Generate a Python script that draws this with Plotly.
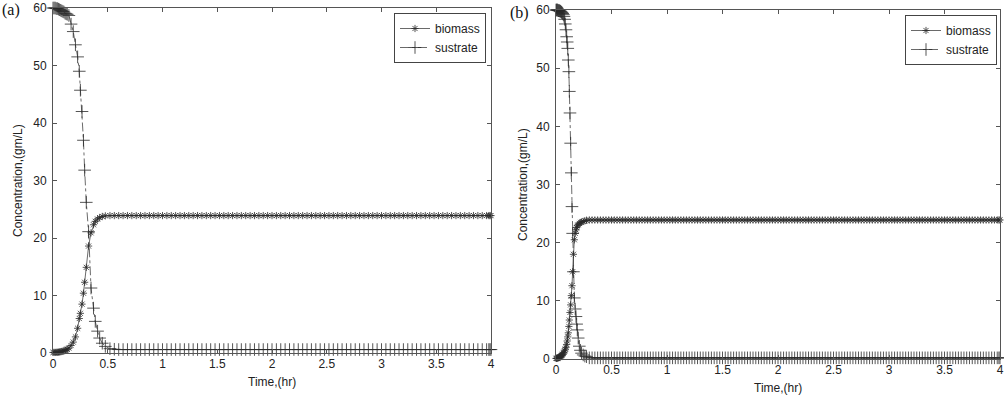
import plotly.graph_objects as go

# ---------------- data: panel (a) ----------------
t_a_trans = [0, 0.01, 0.02, 0.03, 0.04, 0.05, 0.06, 0.07, 0.08, 0.09, 0.10, 0.11, 0.12, 0.13,
             0.145, 0.165, 0.185, 0.205, 0.225, 0.24, 0.25, 0.265, 0.278, 0.289, 0.304, 0.325,
             0.347, 0.37, 0.386, 0.407, 0.426, 0.45, 0.478, 0.52, 0.56]
biomass_a_trans = [0.1, 0.1, 0.1, 0.12, 0.13, 0.15, 0.18, 0.22, 0.26, 0.3, 0.36, 0.44, 0.55, 0.65,
                   0.85, 1.3, 1.9, 2.8, 4.3, 6.0, 6.9, 8.5, 10.4, 12.3, 14.9, 18.6,
                   20.9, 22.3, 22.9, 23.3, 23.55, 23.75, 23.85, 23.9, 23.9]
substrate_a_trans = [60, 60, 60, 59.9, 59.9, 59.8, 59.7, 59.6, 59.5, 59.4, 59.3, 59.1, 59.0, 58.9,
                     58.7, 57.2, 55.9, 53.6, 51.5, 49.0, 45.7, 42.0, 37.0, 31.8, 26.2, 21.1,
                     11.3, 7.8, 5.5, 3.8, 2.6, 1.7, 1.15, 0.75, 0.65]
t_a_plateau = [0.60, 0.64, 0.68, 0.72, 0.76, 0.80, 0.84, 0.88, 0.92, 0.96,
               1.00, 1.04, 1.08, 1.12, 1.16, 1.20, 1.24, 1.28, 1.32, 1.36,
               1.40, 1.44, 1.48, 1.52, 1.56, 1.60, 1.64, 1.68, 1.72, 1.76,
               1.80, 1.84, 1.88, 1.92, 1.96, 2.00, 2.04, 2.08, 2.12, 2.16,
               2.20, 2.24, 2.28, 2.32, 2.36, 2.40, 2.44, 2.48, 2.52, 2.56,
               2.60, 2.64, 2.68, 2.72, 2.76, 2.80, 2.84, 2.88, 2.92, 2.96,
               3.00, 3.04, 3.08, 3.12, 3.16, 3.20, 3.24, 3.28, 3.32, 3.36,
               3.40, 3.44, 3.48, 3.52, 3.56, 3.60, 3.64, 3.68, 3.72, 3.76,
               3.80, 3.84, 3.88, 3.92, 3.96, 3.98, 3.99, 4.00]
biomass_a_final = 23.9
substrate_a_final = 0.6

# ---------------- data: panel (b) ----------------
t_b_trans = [0, 0.005, 0.01, 0.015, 0.02, 0.025, 0.03, 0.035, 0.04, 0.045, 0.05, 0.055, 0.06,
             0.066, 0.072, 0.078, 0.084, 0.09, 0.096, 0.101, 0.106, 0.111, 0.116, 0.12, 0.126,
             0.132, 0.138, 0.144, 0.150, 0.157, 0.165, 0.173, 0.18, 0.186, 0.192, 0.2, 0.21,
             0.22, 0.23, 0.245, 0.26, 0.275]
biomass_b_trans = [0.1, 0.11, 0.13, 0.16, 0.2, 0.25, 0.3, 0.35, 0.42, 0.5, 0.6, 0.7, 0.8,
                   1.0, 1.15, 1.4, 1.7, 2.0, 2.5, 3.1, 3.8, 4.5, 5.6, 6.7, 8.0,
                   9.3, 10.9, 12.6, 15.0, 18.0, 20.5, 21.6, 22.2, 22.6, 22.9, 23.1, 23.3,
                   23.45, 23.55, 23.65, 23.75, 23.85]
substrate_b_trans = [60, 60, 60, 60, 59.9, 59.9, 59.9, 59.8, 59.8, 59.7, 59.6, 59.5, 59.4,
                     59.2, 58.9, 58.4, 57.6, 56.6, 55.4, 54.5, 53.4, 51.4, 49.4, 46.0, 42.3,
                     37.1, 32.0, 26.2, 21.6, 15.0, 10.5, 8.6, 7.3, 6.0, 5.0, 3.6, 2.2,
                     1.5, 1.0, 0.7, 0.5, 0.4]
t_b_plateau = [0.300, 0.325, 0.350, 0.375, 0.400, 0.425, 0.450, 0.475, 0.500, 0.525,
               0.550, 0.575, 0.600, 0.625, 0.650, 0.675, 0.700, 0.725, 0.750, 0.775,
               0.800, 0.825, 0.850, 0.875, 0.900, 0.925, 0.950, 0.975, 1.000, 1.025,
               1.050, 1.075, 1.100, 1.125, 1.150, 1.175, 1.200, 1.225, 1.250, 1.275,
               1.300, 1.325, 1.350, 1.375, 1.400, 1.425, 1.450, 1.475, 1.500, 1.525,
               1.550, 1.575, 1.600, 1.625, 1.650, 1.675, 1.700, 1.725, 1.750, 1.775,
               1.800, 1.825, 1.850, 1.875, 1.900, 1.925, 1.950, 1.975, 2.000, 2.025,
               2.050, 2.075, 2.100, 2.125, 2.150, 2.175, 2.200, 2.225, 2.250, 2.275,
               2.300, 2.325, 2.350, 2.375, 2.400, 2.425, 2.450, 2.475, 2.500, 2.525,
               2.550, 2.575, 2.600, 2.625, 2.650, 2.675, 2.700, 2.725, 2.750, 2.775,
               2.800, 2.825, 2.850, 2.875, 2.900, 2.925, 2.950, 2.975, 3.000, 3.025,
               3.050, 3.075, 3.100, 3.125, 3.150, 3.175, 3.200, 3.225, 3.250, 3.275,
               3.300, 3.325, 3.350, 3.375, 3.400, 3.425, 3.450, 3.475, 3.500, 3.525,
               3.550, 3.575, 3.600, 3.625, 3.650, 3.675, 3.700, 3.725, 3.750, 3.775,
               3.800, 3.825, 3.850, 3.875, 3.900, 3.925, 3.950, 3.975, 3.990, 4.000]
biomass_b_final = 23.9
substrate_b_final = 0.2

series_names = ["biomass", "sustrate"]
x_ticks = [0, 0.5, 1, 1.5, 2, 2.5, 3, 3.5, 4]
y_ticks = [0, 10, 20, 30, 40, 50, 60]

# ---------------- assemble ----------------
t_a = t_a_trans + t_a_plateau
bio_a = biomass_a_trans + [biomass_a_final] * len(t_a_plateau)
sub_a = substrate_a_trans + [substrate_a_final] * len(t_a_plateau)
t_b = t_b_trans + t_b_plateau
bio_b = biomass_b_trans + [biomass_b_final] * len(t_b_plateau)
sub_b = substrate_b_trans + [substrate_b_final] * len(t_b_plateau)

INK = "#2a2a2a"
AX = "#555555"
W, H = 1004, 396

fig = go.Figure()


def add_pair(t, bio, sub, xa, ya, leg):
    fig.add_trace(go.Scatter(
        x=t, y=bio, name=series_names[0], mode="lines+markers",
        line=dict(color=INK, width=0.7),
        marker=dict(symbol="asterisk-open", size=6, color=INK, line=dict(color=INK, width=0.8)),
        xaxis=xa, yaxis=ya, legend=leg, cliponaxis=False))
    fig.add_trace(go.Scatter(
        x=t, y=sub, name=series_names[1], mode="lines+markers",
        line=dict(color=INK, width=0.7, dash="dashdot"),
        marker=dict(symbol="cross-thin-open", size=9, color=INK, line=dict(color=INK, width=0.8)),
        xaxis=xa, yaxis=ya, legend=leg, cliponaxis=False))


add_pair(t_a, bio_a, sub_a, "x", "y", "legend")
add_pair(t_b, bio_b, sub_b, "x2", "y2", "legend2")

# pixel-based layout
pa = dict(l=53, r=491, t=8, b=353)
pb = dict(l=556, r=1000, t=10, b=359)


def xdom(p):
    return [p["l"] / W, p["r"] / W]


def ydom(p):
    return [1 - p["b"] / H, 1 - p["t"] / H]


tick_font = dict(family="Liberation Sans, Arial, sans-serif", size=12, color="#222")
axis_common = dict(showline=True, linecolor=AX, linewidth=1, mirror="ticks",
                   ticks="inside", ticklen=4, tickcolor=AX, tickwidth=1,
                   showgrid=False, zeroline=False, tickfont=tick_font, automargin=False)

fig.update_layout(
    width=W, height=H,
    margin=dict(l=0, r=0, t=0, b=0, autoexpand=False),
    paper_bgcolor="white", plot_bgcolor="white",
    xaxis=dict(domain=xdom(pa), range=[0, 4], tickvals=x_ticks, anchor="y", **axis_common),
    yaxis=dict(domain=ydom(pa), range=[0, 60], tickvals=y_ticks, anchor="x",
               ticklabelstandoff=3, **axis_common),
    xaxis2=dict(domain=xdom(pb), range=[0, 4], tickvals=x_ticks, anchor="y2", **axis_common),
    yaxis2=dict(domain=ydom(pb), range=[0, 60], tickvals=y_ticks, anchor="x2",
                ticklabelstandoff=3, **axis_common),
    legend=dict(x=486 / W, y=1 - 13 / H, xanchor="right", yanchor="top",
                bgcolor="white", bordercolor="#444", borderwidth=1,
                font=dict(family="Liberation Sans, Arial, sans-serif", size=12, color="#222"),
                itemwidth=30, tracegroupgap=0),
    legend2=dict(x=997 / W, y=1 - 15 / H, xanchor="right", yanchor="top",
                 bgcolor="white", bordercolor="#444", borderwidth=1,
                 font=dict(family="Liberation Sans, Arial, sans-serif", size=12, color="#222"),
                 itemwidth=30, tracegroupgap=0),
    showlegend=True,
    hovermode=False,
)

lab_font = dict(family="Liberation Sans, Arial, sans-serif", size=12, color="#222")
ann = [
    dict(text="Time,(hr)", x=(pa["l"] + pa["r"]) / 2 / W, y=1 - 382 / H),
    dict(text="Time,(hr)", x=(pb["l"] + pb["r"]) / 2 / W, y=1 - 388 / H),
    dict(text="Concentration,(gm/L)", x=18 / W, y=1 - 181 / H, textangle=-90),
    dict(text="Concentration,(gm/L)", x=523 / W, y=1 - 185 / H, textangle=-90),
]
for a in ann:
    fig.add_annotation(xref="paper", yref="paper", showarrow=False,
                       xanchor="center", yanchor="middle", font=lab_font, **a)

serif = dict(family="Liberation Serif, Times New Roman, serif", size=16, color="#111")
fig.add_annotation(text="(a)", x=11 / W, y=1 - 10 / H, xref="paper", yref="paper",
                   showarrow=False, xanchor="center", yanchor="middle", font=serif)
fig.add_annotation(text="(b)", x=519 / W, y=1 - 13 / H, xref="paper", yref="paper",
                   showarrow=False, xanchor="center", yanchor="middle", font=serif)

# remove the default page margin so the figure sits at the window's top-left corner
page_fix = "document.body.style.margin='0';document.body.style.overflow='hidden';"
fig.write_html("out.html", post_script=page_fix, config={"displayModeBar": False})
